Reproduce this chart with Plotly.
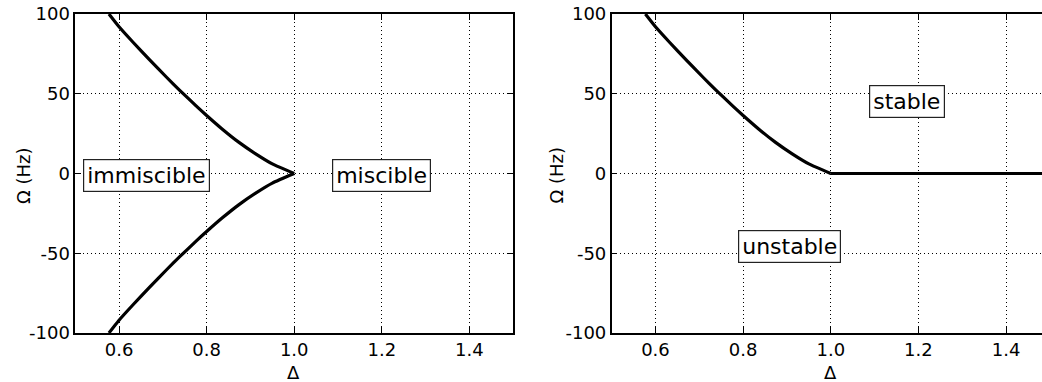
import plotly.graph_objects as go

# Data
delta_upper = [0.577, 0.6, 0.632, 0.67, 0.708, 0.738, 0.776, 0.8, 0.836, 0.874, 0.912, 0.95, 1.0]
omega_upper = [100, 92, 82.3, 71.2, 60.5, 52.3, 42.4, 36.4, 27.8, 19.5, 12.3, 6.0, 0]
omega_lower = [-v for v in omega_upper]
delta_flat = [1.0, 1.5]
omega_flat = [0, 0]

xtick_vals = [0.6, 0.8, 1.0, 1.2, 1.4]
xtick_text = ["0.6", "0.8", "1.0", "1.2", "1.4"]
ytick_vals = [-100, -50, 0, 50, 100]
ytick_text = ["-100", "-50", "0", "50", "100"]

left_labels = ["immiscible", "miscible"]
left_label_x = [0.662, 1.2]
left_label_y = [-1.5, -1.5]
right_labels = ["stable", "unstable"]
right_label_x = [1.174, 0.906]
right_label_y = [45, -45.5]

FONT = "DejaVu Sans"

fig = go.Figure()
line = dict(color="black", width=3.2)
curve = dict(line, shape="spline", smoothing=0.5)
fig.add_trace(go.Scatter(x=delta_upper, y=omega_upper, mode="lines", line=curve,
                         xaxis="x", yaxis="y", showlegend=False))
fig.add_trace(go.Scatter(x=delta_upper, y=omega_lower, mode="lines", line=curve,
                         xaxis="x", yaxis="y", showlegend=False))
fig.add_trace(go.Scatter(x=delta_upper, y=omega_upper, mode="lines", line=curve,
                         xaxis="x2", yaxis="y2", showlegend=False))
fig.add_trace(go.Scatter(x=delta_flat, y=omega_flat, mode="lines", line=line,
                         xaxis="x2", yaxis="y2", showlegend=False))

tickfont = dict(family=FONT, size=18, color="black")
grid = dict(showgrid=True, gridcolor="black", griddash="1px,3px", gridwidth=1)
common_x = dict(showline=True, linecolor="black", linewidth=1.5, ticks="inside", ticklen=6,
                tickcolor="black", tickvals=xtick_vals, ticktext=xtick_text, tickfont=tickfont,
                zeroline=False, automargin=False, **grid)
common_y = dict(showline=True, linecolor="black", linewidth=1.5, ticks="inside", ticklen=6,
                tickcolor="black", tickvals=ytick_vals, ticktext=ytick_text, tickfont=tickfont,
                zeroline=False, range=[-100, 100], automargin=False, **grid)

fig.update_layout(
    width=1042, height=382,
    margin=dict(l=0, r=0, t=14, b=49),
    plot_bgcolor="white", paper_bgcolor="white",
    xaxis=dict(common_x, domain=[0.0722, 0.4925], range=[0.5, 1.5], mirror="ticks", anchor="y"),
    yaxis=dict(common_y, domain=[0, 1], mirror="ticks", anchor="x"),
    xaxis2=dict(common_x, domain=[0.587, 1.0], range=[0.5, 1.482], mirror="ticks", anchor="y2"),
    yaxis2=dict(common_y, domain=[0, 1], mirror=False, anchor="x2"),
)

annos = []
lab_font = dict(family=FONT, size=22, color="black")
for t, x, y in zip(left_labels, left_label_x, left_label_y):
    annos.append(dict(text=t, x=x, y=y, xref="x", yref="y", showarrow=False, font=lab_font,
                      bgcolor="white", bordercolor="#222", borderwidth=1.2, borderpad=3))
for t, x, y in zip(right_labels, right_label_x, right_label_y):
    annos.append(dict(text=t, x=x, y=y, xref="x2", yref="y2", showarrow=False, font=lab_font,
                      bgcolor="white", bordercolor="#222", borderwidth=1.2, borderpad=3))

# axis titles
title_font = dict(family=FONT, size=18, color="black")
for xc in [0.2815, 0.797]:
    annos.append(dict(text="Δ", x=xc, y=-0.125, xref="paper", yref="paper", showarrow=False,
                      font=title_font, xanchor="center", yanchor="middle"))
for xc in [0.022, 0.534]:
    annos.append(dict(text="Ω (Hz)", x=xc, y=0.495, xref="paper", yref="paper", showarrow=False,
                      font=title_font, textangle=-90, xanchor="center", yanchor="middle"))
fig.update_layout(annotations=annos)

fig.write_html("out.html", config={"displayModeBar": False})
with open("out.html", "r", encoding="utf-8") as f:
    html = f.read()
html = html.replace("<head>", "<head><style>html,body{margin:0;padding:0;overflow:hidden;}</style>", 1)
with open("out.html", "w", encoding="utf-8") as f:
    f.write(html)
